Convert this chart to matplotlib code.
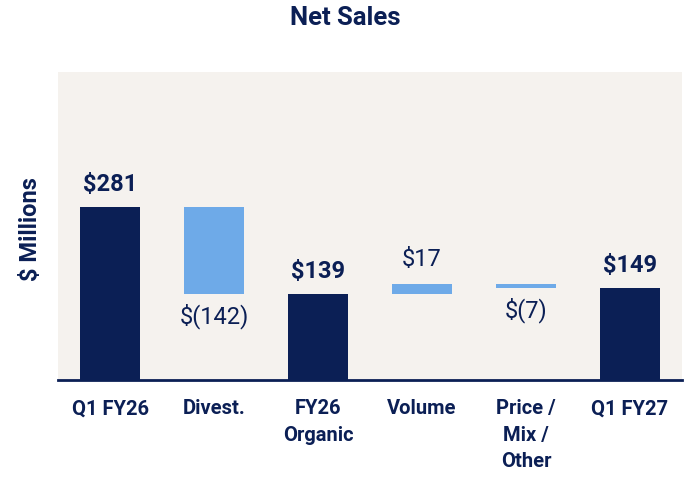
import matplotlib
matplotlib.use("Agg")
import matplotlib.pyplot as plt

categories = ["Q1 FY26", "Divest.", "FY26\nOrganic", "Volume", "Price /\nMix /\nOther", "Q1 FY27"]
values = [281, -142, 139, 17, -7, 149]
kinds = ["total", "delta", "total", "delta", "delta", "total"]
labels = ["$281", "$(142)", "$139", "$17", "$(7)", "$149"]

NAVY = "#0b1f55"
LIGHT = "#6eaae8"
BG = "#f5f2ee"

plt.rcParams['font.family'] = ['Roboto', 'DejaVu Sans']

fig = plt.figure(figsize=(6.9, 4.8), dpi=100)
ax = fig.add_axes([58/690, 1-380/480, 624/690, 308/480])
ax.set_facecolor(BG)

running = 0
for i, (v, k, lab) in enumerate(zip(values, kinds, labels)):
    if k == "total":
        running = v
        ax.bar(i, v, bottom=0, width=0.58, color=NAVY, zorder=2)
        ax.annotate(lab, (i, v), xytext=(0, 8), textcoords="offset points",
                    ha="center", va="bottom", fontsize=17, fontweight="bold", color=NAVY)
    else:
        if v >= 0:
            bottom, height = running, v
        else:
            bottom, height = running + v, -v
        ax.bar(i, height, bottom=bottom, width=0.58, color=LIGHT, zorder=2)
        if v >= 0:
            ax.annotate(lab, (i, running + v), xytext=(0, 9), textcoords="offset points",
                        ha="center", va="bottom", fontsize=17, color=NAVY)
        else:
            ax.annotate(lab, (i, running + v), xytext=(0, -6.5), textcoords="offset points",
                        ha="center", va="top", fontsize=17, color=NAVY)
        running += v

ax.set_xlim(-0.5, len(categories) - 0.5)
ax.set_ylim(0, 500)
ax.set_xticks(range(len(categories)))
ax.set_xticklabels(categories, fontsize=14.5, fontweight="bold", color=NAVY, linespacing=1.5, va="top")
ax.tick_params(axis="x", length=0, pad=14)
ax.set_yticks([])
for s in ["top", "right", "left"]:
    ax.spines[s].set_visible(False)
ax.spines["bottom"].set_color(NAVY)
ax.spines["bottom"].set_linewidth(2)

fig.text(30/690, 1-229/480, "$ Millions", rotation=90, ha="center", va="center",
         fontsize=17, fontweight="bold", color=NAVY)
fig.text(0.5, 1-18/480, "Net Sales", ha="center", va="center",
         fontsize=18.5, fontweight="bold", color=NAVY)

fig.savefig("out.png", dpi=100, facecolor="white")
